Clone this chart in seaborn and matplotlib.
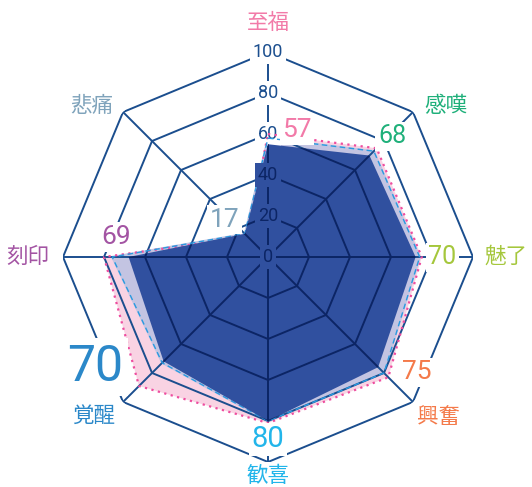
import numpy as np
import matplotlib
matplotlib.use("Agg")
import matplotlib.pyplot as plt
import seaborn as sns

# categories clockwise from top
categories = ["至福", "感嘆", "魅了", "興奮", "歓喜", "覚醒", "刻印", "悲痛"]
cat_colors = ["#f27aa8", "#1fb07a", "#a5c73c", "#f47a4a",
              "#22b5ea", "#2b88c9", "#a354a3", "#7fa3bb"]
score_labels = [57, 68, 70, 75, 80, 70, 69, 17]

# three series
series_pink = [60, 75, 75, 83, 81, 89, 80, 14]
series_lav = [58, 73, 74, 80, 80, 73, 76, 16]
series_dark = [55, 70, 72, 76, 80, 72, 68, 16]
ring_ticks = [0, 20, 40, 60, 80, 100]

sns.set_theme(style="white")
plt.rcParams['font.family'] = ['Noto Sans CJK JP', 'DejaVu Sans']

GRID = "#1b4e8e"
GRID_IN = "#0c2565"
DARK = "#30509f"

n = len(categories)
theta = np.deg2rad(np.arange(n) * 360 / n)
theta_c = np.append(theta, theta[0])


def closed(vals):
    return np.append(vals, vals[0])


fig = plt.figure(figsize=(5.32, 4.87), dpi=100)
ax = fig.add_axes([63 / 532, 25 / 487, 410 / 532, 410 / 487], projection='polar')
ax.set_theta_offset(np.pi / 2)
ax.set_theta_direction(-1)
ax.set_ylim(0, 100)
ax.grid(False)
ax.set_xticks([])
ax.set_yticks([])
ax.spines['polar'].set_visible(False)
ax.set_facecolor("none")

# back layers
ax.fill(theta_c, closed(series_pink), color="#f9d3e3", lw=0, zorder=1)
ax.fill(theta_c, closed(series_lav), color="#c3c4e2", ec="#c3c4e2", lw=1.5, zorder=2)


def draw_grid(color, z, clip=None):
    for r in ring_ticks[1:]:
        ln, = ax.plot(theta_c, [r] * (n + 1), color=color, lw=1.4, zorder=z)
        if clip is not None:
            ln.set_clip_path(clip)
    for t in theta:
        ln, = ax.plot([t, t], [0, 100], color=color, lw=1.4, zorder=z)
        if clip is not None:
            ln.set_clip_path(clip)
    for r in ring_ticks:
        if clip is None:
            fc = "white"
        elif r < series_dark[0] - 4:
            fc = DARK
        else:
            continue
        ax.text(0, r, str(r), ha="center", va="center", fontsize=13,
                color=color, zorder=z + 0.5, family=["Roboto"],
                bbox=dict(boxstyle="square,pad=0.15", fc=fc, ec="none"))


draw_grid(GRID, 3)

sns.lineplot(x=theta_c, y=closed(series_pink), sort=False, estimator=None, ax=ax,
             color="#ee4d9f", lw=1.6, linestyle=(0, (1, 2)), zorder=4)
sns.lineplot(x=theta_c, y=closed(series_lav), sort=False, estimator=None, ax=ax,
             color="#2a9ae0", lw=1.0, linestyle=(0, (4, 2.5)), zorder=4)

dark_poly = ax.fill(theta_c, closed(series_dark), color=DARK, lw=0, zorder=5)[0]
draw_grid(GRID_IN, 6, clip=dark_poly)
ax.set_xlabel("")
ax.set_ylabel("")

# category names and score labels
cat_pos = [(0, 114), (49.7, 114), (90, 116), (133.3, 114),
           (180, 107), (227.6, 115), (270, 117), (310.6, 113)]
num_pos = [(12.9, 63.6), (45.7, 84.5), (90, 85), (127.7, 92),
           (180, 89), (237.5, 100), (277.5, 75), (310.7, 28)]
num_size = [19, 18, 18, 19, 21, 36, 19, 19]

for i in range(n):
    t, r = cat_pos[i]
    ax.text(np.deg2rad(t), r, categories[i], ha="center", va="center",
            fontsize=15.5, color=cat_colors[i], zorder=9)
    t, r = num_pos[i]
    ax.text(np.deg2rad(t), r, str(score_labels[i]), ha="center", va="center",
            fontsize=num_size[i], color=cat_colors[i], zorder=9, family=["Roboto"],
            bbox=dict(boxstyle="square,pad=0.1", fc="white", ec="none"))

fig.savefig("out.png", dpi=100)
